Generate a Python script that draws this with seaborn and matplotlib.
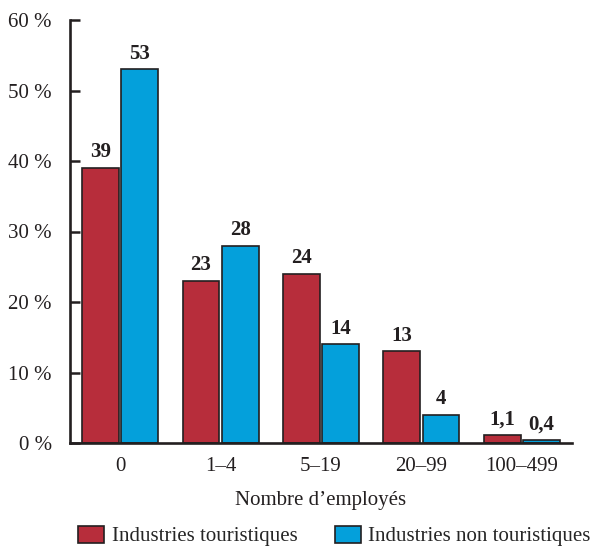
import matplotlib
matplotlib.use("Agg")
import matplotlib.pyplot as plt
import seaborn as sns
import pandas as pd
from matplotlib.patches import Patch

categories = ["0", "1–4", "5–19", "20–99", "100–499"]
tourist = [39, 23, 24, 13, 1.1]
non_tourist = [53, 28, 14, 4, 0.4]
series_names = ["Industries touristiques", "Industries non touristiques"]
y_ticks = [0, 10, 20, 30, 40, 50, 60]
y_tick_labels = ["0 %", "10 %", "20 %", "30 %", "40 %", "50 %", "60 %"]
colors = ["#B72D3B", "#04A0DB"]

sns.set_theme(style="white")
plt.rcParams["font.family"] = ["Liberation Serif", "DejaVu Serif"]

df = pd.DataFrame({
    "cat": categories * 2,
    "val": tourist + non_tourist,
    "series": [series_names[0]] * 5 + [series_names[1]] * 5,
})

fig = plt.figure(figsize=(5.92, 5.48), dpi=100)
ax = fig.add_axes([70 / 592, 1 - 443 / 548, 502 / 592, 423 / 548])

sns.barplot(data=df, x="cat", y="val", hue="series", palette=colors,
            saturation=1, width=0.78, gap=0.06, edgecolor="#231f20",
            linewidth=1.2, ax=ax, legend=False)

ax.set_xlim(-0.5, 4.5)
ax.set_ylim(0, 60)
ax.set_yticks(y_ticks)
ax.set_yticklabels(y_tick_labels, fontsize=15, color="#231f20")
ax.set_xticks(range(len(categories)))
ax.set_xticklabels(categories, fontsize=15, color="#231f20")
ax.tick_params(axis="y", left=True, direction="in", length=7.5, width=1.8,
               color="#231f20", pad=13)
ax.tick_params(axis="x", bottom=False, length=0, pad=10)
ax.set_ylabel("")
ax.set_xlabel("Nombre d’employés", fontsize=15, color="#231f20", labelpad=11)

for s in ["top", "right"]:
    ax.spines[s].set_visible(False)
for s in ["left", "bottom"]:
    ax.spines[s].set_linewidth(1.9)
    ax.spines[s].set_color("#231f20")

def fmt(v):
    return (f"{v:g}").replace(".", ",")

for cont, vals in zip(ax.containers, [tourist, non_tourist]):
    ax.bar_label(cont, labels=[fmt(v) for v in vals], padding=4,
                 fontsize=15, fontweight="bold", color="#231f20")

handles = [Patch(facecolor=c, edgecolor="#231f20", linewidth=1.2) for c in colors]
fig.legend(handles, series_names, loc="center", bbox_to_anchor=(0.565, 1 - 536 / 548),
           ncol=2, frameon=False, fontsize=15, handlelength=1.25, handleheight=0.9,
           columnspacing=1.8, handletextpad=0.35, borderpad=0, borderaxespad=0)

fig.savefig("out.png", dpi=100)
